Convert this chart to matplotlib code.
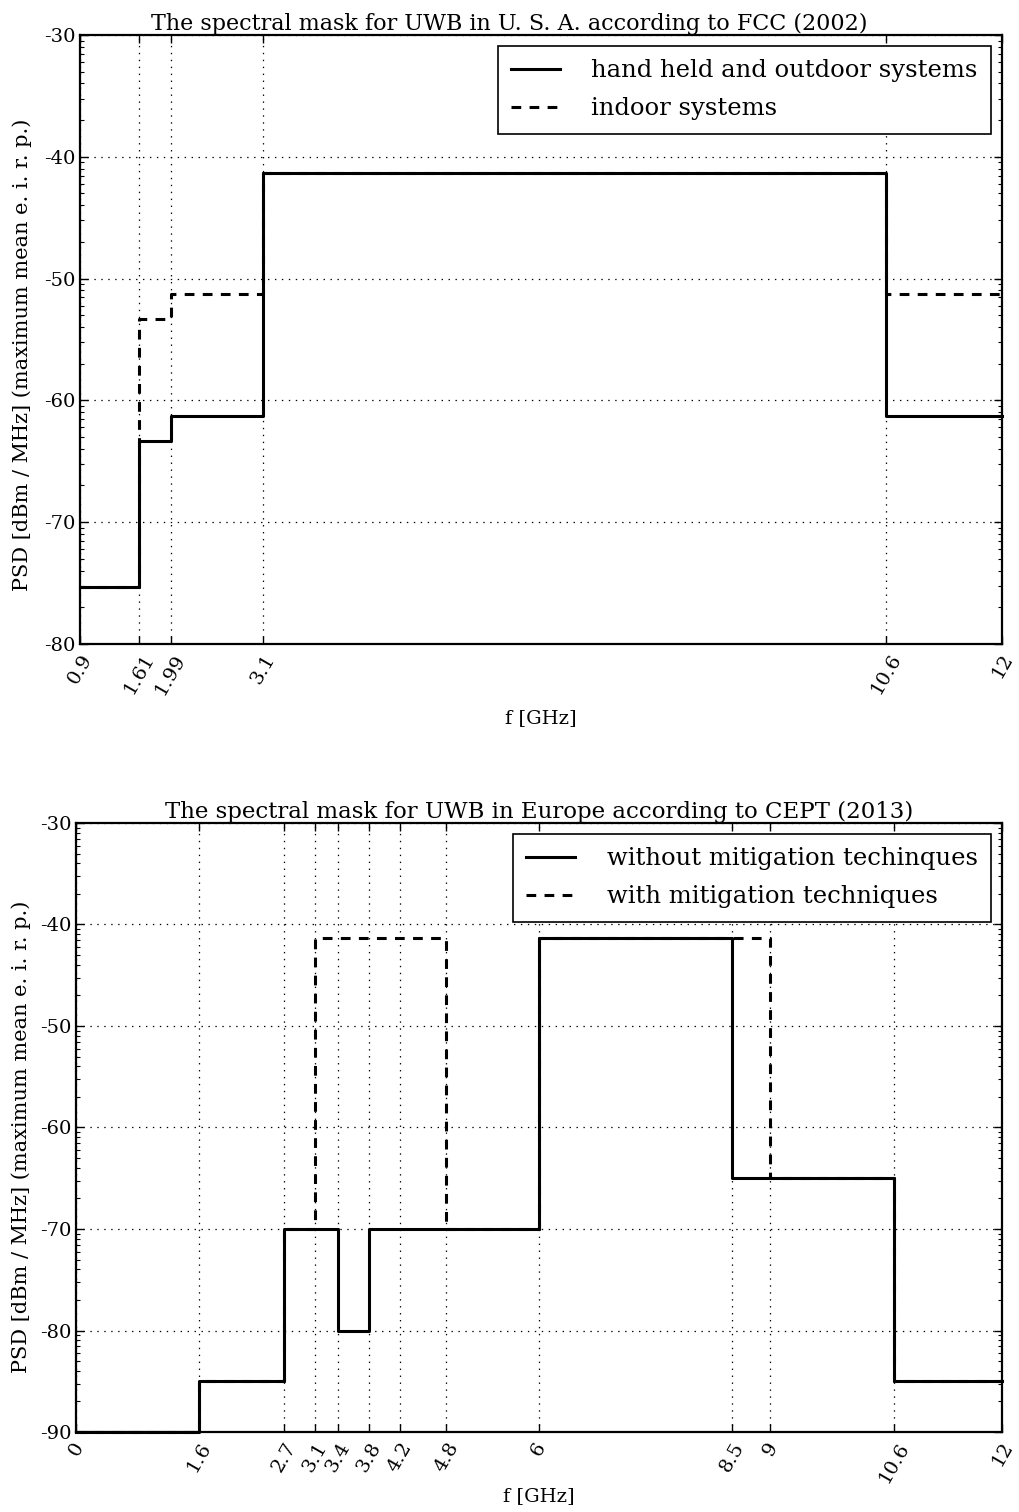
import numpy as np
import matplotlib
matplotlib.use("Agg")
import matplotlib.pyplot as plt
from matplotlib.ticker import FixedLocator

plt.rcParams['font.family'] = ['DejaVu Serif']
plt.rcParams['lines.scale_dashes'] = False
plt.rcParams['mathtext.fontset'] = 'dejavuserif'

# ---------------- data ----------------
# FCC (USA) 2002
fcc_edges = [0.9, 1.61, 1.99, 3.1, 10.6, 12]
fcc_outdoor = [-75.3, -63.3, -61.3, -41.3, -61.3]
fcc_indoor = [-75.3, -53.3, -51.3, -41.3, -51.3]
fcc_ticks = [0.9, 1.61, 1.99, 3.1, 10.6, 12]
fcc_ticklabels = ["0.9", "1.61", "1.99", "3.1", "10.6", "12"]

# CEPT (Europe) 2013
cept_edges_wo = [0, 1.6, 2.7, 3.4, 3.8, 6, 8.5, 10.6, 12]
cept_without = [-90, -85, -70, -80, -70, -41.3, -65, -85]
cept_edges_w = [0, 1.6, 2.7, 3.1, 4.8, 6, 9, 10.6, 12]
cept_with = [-90, -85, -70, -41.3, -70, -41.3, -65, -85]
cept_ticks = [0, 1.6, 2.7, 3.1, 3.4, 3.8, 4.2, 4.8, 6, 8.5, 9, 10.6, 12]
cept_ticklabels = ["0", "1.6", "2.7", "3.1", "3.4", "3.8", "4.2", "4.8", "6",
                   "8.5", "9", "10.6", "12"]

titles = ["The spectral mask for UWB in U. S. A. according to FCC (2002)",
          "The spectral mask for UWB in Europe according to CEPT (2013)"]
ylabel = "PSD [dBm / MHz] (maximum mean e. i. r. p.)"
xlabel = "f [GHz]"

fig = plt.figure(figsize=(10.19, 15.12), dpi=100)
ax1 = fig.add_axes([0.0785, 0.5741, 0.9833 - 0.0785, 0.9769 - 0.5741])
ax2 = fig.add_axes([0.0746, 0.0529, 0.9833 - 0.0746, 0.4557 - 0.0529])


def step_xy(edges, vals):
    x = np.array(edges, dtype=float)
    y = np.array(list(vals) + [vals[-1]], dtype=float)
    return x, y


def style_axes(ax, ticks, labels, ymin, ymax):
    ax.set_xticks(ticks)
    ax.set_xticklabels(labels, rotation=60, fontsize=14)
    ax.set_yticks(np.arange(ymin, ymax + 1, 10))
    ax.set_yticklabels([str(v) for v in np.arange(ymin, ymax + 1, 10)], fontsize=14)
    minors = []
    for a in np.arange(ymin, ymax, 10):
        for k in range(2, 10):
            minors.append(a + 10 * np.log10(k))
    ax.yaxis.set_minor_locator(FixedLocator(minors))
    ax.tick_params(which='both', direction='in', top=True, right=True,
                   bottom=True, left=True)
    ax.tick_params(which='major', length=6, width=1, pad=3)
    ax.tick_params(which='minor', length=3, width=0.8)
    ax.tick_params(axis='x', which='major', pad=5)
    for s in ax.spines.values():
        s.set_linewidth(1.6)
    ax.grid(True, which='major', color='black', linestyle=(0, (1, 4)), linewidth=0.9)
    ax.set_axisbelow(True)


def add_legend(ax):
    h, l = ax.get_legend_handles_labels()
    leg = ax.legend(h[::-1], l[::-1], loc='upper right', fontsize=17.5, fancybox=False,
                    edgecolor='black', framealpha=1, handlelength=2.0,
                    borderaxespad=0.45, handletextpad=1.3, labelspacing=0.62,
                    borderpad=0.55)
    leg.get_frame().set_linewidth(1.2)


# ---- top ----
x, y = step_xy(fcc_edges, fcc_indoor)
ax1.step(x, y, where='post', color='black', lw=2.2, linestyle=(0, (7, 6)),
         label='indoor systems', zorder=3, clip_on=False)
x, y = step_xy(fcc_edges, fcc_outdoor)
ax1.step(x, y, where='post', color='black', lw=2.2,
         label='hand held and outdoor systems', zorder=4, clip_on=False)
ax1.set_xlim(0.9, 12)
ax1.set_ylim(-80, -30)
style_axes(ax1, fcc_ticks, fcc_ticklabels, -80, -30)
ax1.set_title(titles[0], fontsize=16, pad=3, x=0.466)
ax1.set_ylabel(ylabel, fontsize=15, labelpad=9)
ax1.yaxis.label.set_y(0.4745)
ax1.set_xlabel(xlabel, fontsize=14, labelpad=8)
add_legend(ax1)

# ---- bottom ----
x, y = step_xy(cept_edges_w, cept_with)
ax2.step(x, y, where='post', color='black', lw=2.2, linestyle=(0, (7, 6)),
         label='with mitigation techniques', zorder=3, clip_on=False)
x, y = step_xy(cept_edges_wo, cept_without)
ax2.step(x, y, where='post', color='black', lw=2.2,
         label='without mitigation techinques', zorder=4, clip_on=False)
ax2.set_xlim(0, 12)
ax2.set_ylim(-90, -30)
style_axes(ax2, cept_ticks, cept_ticklabels, -90, -30)
ax2.set_title(titles[1], fontsize=16.5, pad=3)
ax2.set_ylabel(ylabel, fontsize=15, labelpad=7)
ax2.yaxis.label.set_y(0.484)
ax2.set_xlabel(xlabel, fontsize=14, labelpad=1)
add_legend(ax2)

fig.savefig("out.png", dpi=100)
